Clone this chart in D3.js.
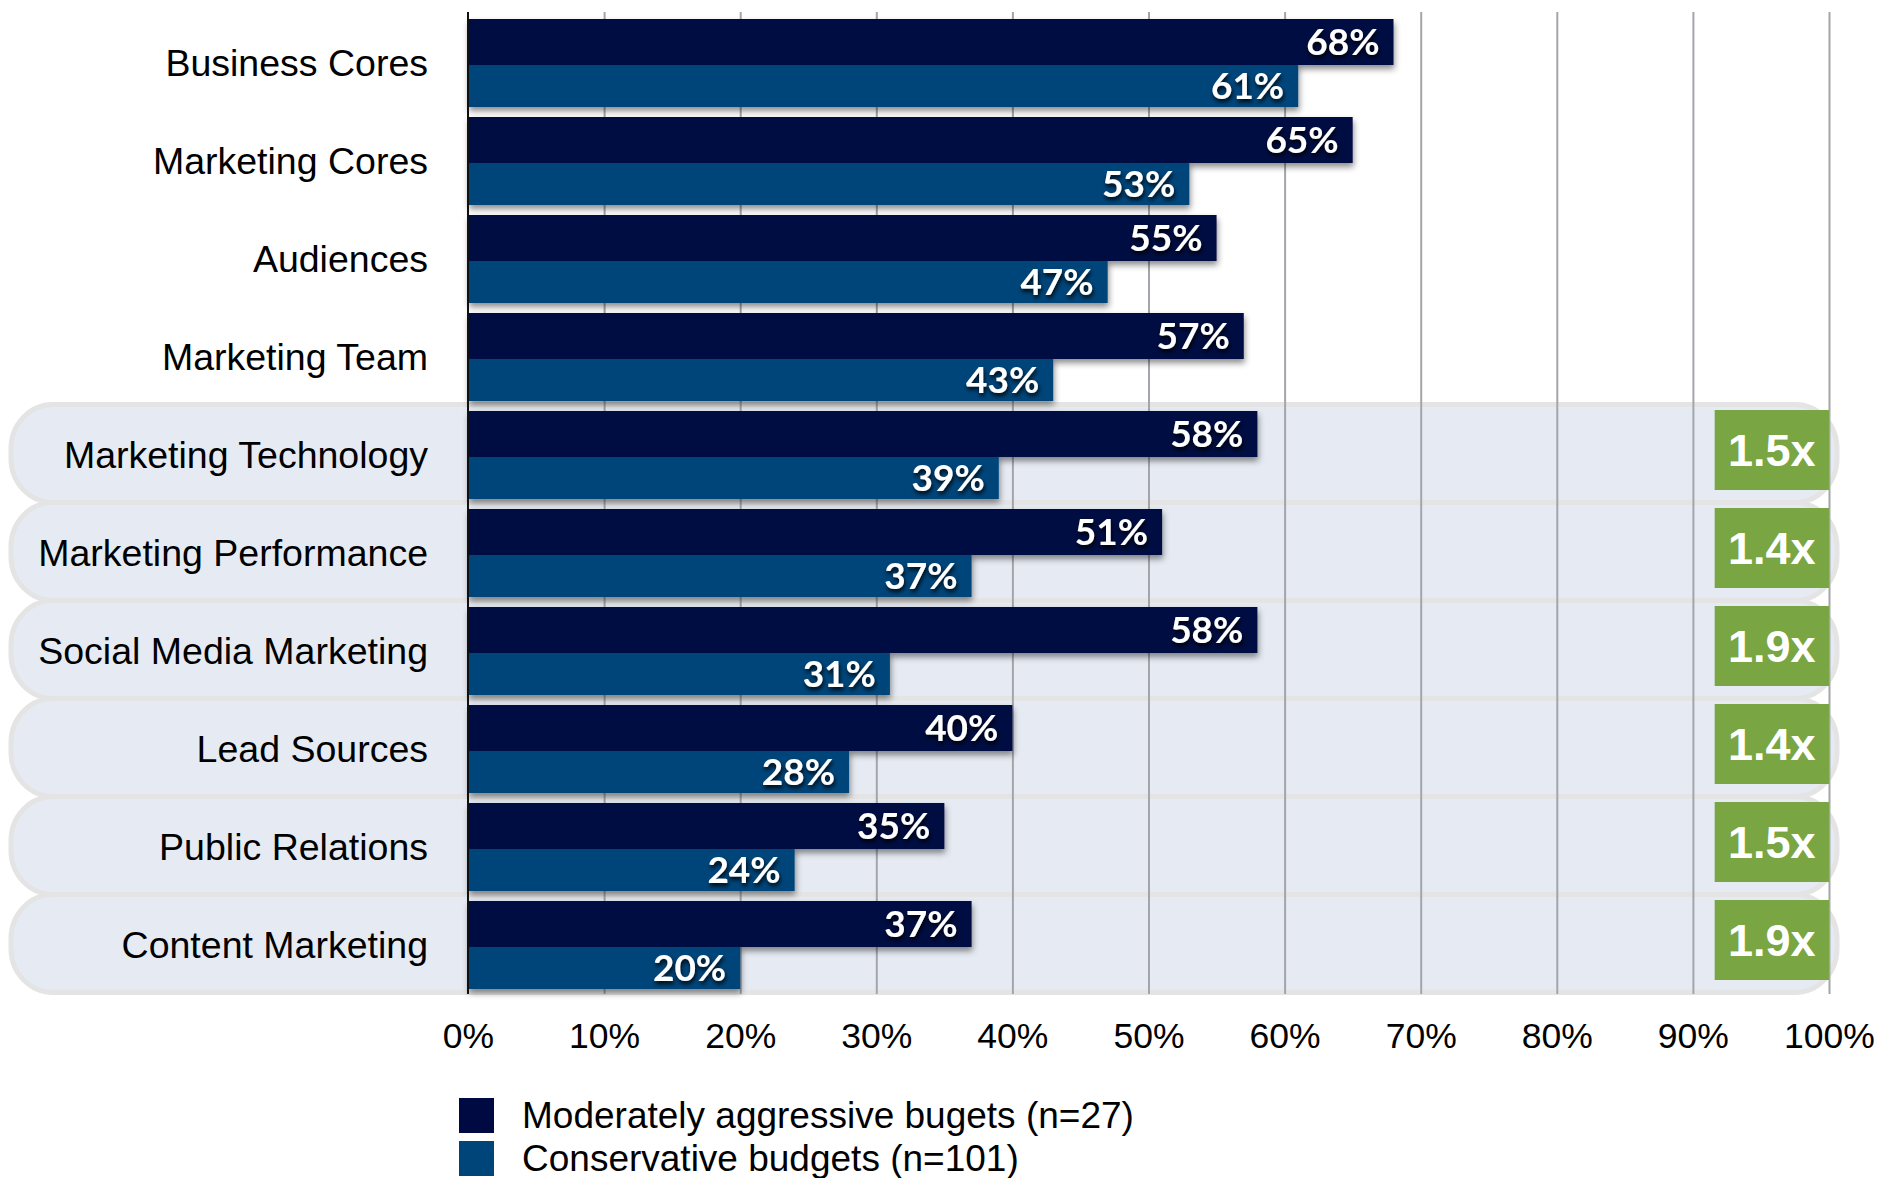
<!DOCTYPE html>
<html>
<head>
<meta charset="utf-8">
<script src="https://cdn.jsdelivr.net/npm/d3@7"></script>
<style>
  body { margin: 0; background: #fff; }
  svg { display: block; }
</style>
</head>
<body>
<div id="chart"></div>
<script>
// chart values
var categories = ["Business Cores", "Marketing Cores", "Audiences", "Marketing Team",
  "Marketing Technology", "Marketing Performance", "Social Media Marketing",
  "Lead Sources", "Public Relations", "Content Marketing"];
var aggressive = [68, 65, 55, 57, 58, 51, 58, 40, 35, 37];
var conservative = [61, 53, 47, 43, 39, 37, 31, 28, 24, 20];
var multipliers = [null, null, null, null, "1.5x", "1.4x", "1.9x", "1.4x", "1.5x", "1.9x"];
var xTicks = [0, 10, 20, 30, 40, 50, 60, 70, 80, 90, 100];
var seriesNames = ["Moderately aggressive bugets (n=27)", "Conservative budgets (n=101)"];

var width = 1882, height = 1178;
var darkColor = "#000a42", lightColor = "#00457a", green = "#79a542";

var svg = d3.select("#chart").append("svg")
    .attr("width", width)
    .attr("height", height);

var defs = svg.append("defs");
defs.append("filter").attr("id", "barShadow")
    .attr("x", "-5%").attr("y", "-30%").attr("width", "110%").attr("height", "170%")
  .append("feDropShadow")
    .attr("dx", 1).attr("dy", 4).attr("stdDeviation", 3)
    .attr("flood-color", "#000").attr("flood-opacity", 0.45);
defs.append("filter").attr("id", "textShadow")
    .attr("x", "-20%").attr("y", "-30%").attr("width", "140%").attr("height", "170%")
  .append("feDropShadow")
    .attr("dx", 1).attr("dy", 3).attr("stdDeviation", 2)
    .attr("flood-color", "#000").attr("flood-opacity", 0.9);

var x = d3.scaleLinear().domain([0, 100]).range([468, 1829]);
var y = d3.scaleBand().domain(categories).range([12, 992]);
var bw = y.bandwidth();

var rows = categories.map(function(c, i) {
  return { cat: c, a: aggressive[i], c: conservative[i], m: multipliers[i] };
});

// rounded background rows for highlighted categories
svg.append("g").selectAll("rect")
  .data(rows.filter(function(d) { return d.m; }))
  .enter().append("rect")
    .attr("x", 11)
    .attr("y", function(d) { return y(d.cat) + 0.5; })
    .attr("width", 1826)
    .attr("height", bw)
    .attr("rx", 42).attr("ry", 44)
    .attr("fill", "#e6ebf3")
    .attr("stroke", "#e4e4e4")
    .attr("stroke-width", 5);

// grid lines
svg.append("g")
    .attr("transform", "translate(0,12)")
    .call(d3.axisTop(x).tickValues(xTicks.slice(1)).tickSize(-982).tickFormat(""))
    .call(function(g) { g.select(".domain").remove(); })
    .selectAll("line")
    .attr("stroke", "#a3a5aa")
    .attr("stroke-width", 2);

// bars
var bars = svg.append("g").attr("filter", "url(#barShadow)");
bars.selectAll(".dark").data(rows).enter().append("rect")
    .attr("class", "dark")
    .attr("x", x(0))
    .attr("y", function(d) { return y(d.cat) + 7; })
    .attr("width", function(d) { return x(d.a) - x(0); })
    .attr("height", 46)
    .attr("fill", darkColor);
bars.selectAll(".light").data(rows).enter().append("rect")
    .attr("class", "light")
    .attr("x", x(0))
    .attr("y", function(d) { return y(d.cat) + 53; })
    .attr("width", function(d) { return x(d.c) - x(0); })
    .attr("height", 42)
    .attr("fill", lightColor);

// bar value labels
var labels = svg.append("g")
    .attr("font-family", "Lato, 'Open Sans', sans-serif")
    .attr("font-weight", "bold")
    .attr("font-size", 37)
    .attr("fill", "#fff")
    .attr("text-anchor", "end")
    .attr("filter", "url(#textShadow)");
labels.selectAll(".la").data(rows).enter().append("text")
    .attr("x", function(d) { return x(d.a) - 14; })
    .attr("y", function(d) { return y(d.cat) + 30 + 13; })
    .text(function(d) { return d.a + "%"; });
labels.selectAll(".lc").data(rows).enter().append("text")
    .attr("x", function(d) { return x(d.c) - 14; })
    .attr("y", function(d) { return y(d.cat) + 74 + 13; })
    .text(function(d) { return d.c + "%"; });

// multiplier boxes
var mult = svg.append("g").selectAll("g")
  .data(rows.filter(function(d) { return d.m; }))
  .enter().append("g");
mult.append("rect")
    .attr("x", x(91.6))
    .attr("y", function(d) { return y(d.cat) + 6; })
    .attr("width", x(100) - x(91.6))
    .attr("height", 80)
    .attr("fill", green);
mult.append("text")
    .attr("x", (x(91.6) + x(100)) / 2)
    .attr("y", function(d) { return y(d.cat) + 46 + 16; })
    .attr("text-anchor", "middle")
    .attr("font-family", "'Liberation Sans', Arial, sans-serif")
    .attr("font-weight", "bold")
    .attr("font-size", 45)
    .attr("fill", "#fff")
    .text(function(d) { return d.m; });

// category axis line
svg.append("line")
    .attr("x1", x(0)).attr("x2", x(0))
    .attr("y1", 12).attr("y2", 994)
    .attr("stroke", "#111").attr("stroke-width", 2);

// category labels
svg.append("g").selectAll("text")
  .data(rows).enter().append("text")
    .attr("x", 428)
    .attr("y", function(d) { return y(d.cat) + 64; })
    .attr("text-anchor", "end")
    .attr("font-family", "'Liberation Sans', Arial, sans-serif")
    .attr("font-size", 37.5)
    .attr("fill", "#000")
    .text(function(d) { return d.cat; });

// x axis tick labels
svg.append("g")
    .attr("transform", "translate(0,1010)")
    .call(d3.axisBottom(x).tickValues(xTicks).tickSize(0).tickPadding(0)
      .tickFormat(function(d) { return d + "%"; }))
    .call(function(g) { g.select(".domain").remove(); })
    .selectAll("text")
    .attr("font-family", "'Liberation Sans', Arial, sans-serif")
    .attr("font-size", 35.5)
    .attr("fill", "#000")
    .attr("dy", "1.08em");

// legend
var legend = svg.append("g").selectAll("g")
  .data(seriesNames).enter().append("g")
    .attr("transform", function(d, i) { return "translate(459," + (1098 + i * 43) + ")"; });
legend.append("rect")
    .attr("width", 35).attr("height", 35)
    .attr("fill", function(d, i) { return i === 0 ? darkColor : lightColor; });
legend.append("text")
    .attr("x", 63).attr("y", 30)
    .attr("font-family", "'Liberation Sans', Arial, sans-serif")
    .attr("font-size", 37)
    .attr("fill", "#000")
    .text(function(d) { return d; });
</script>
</body>
</html>
